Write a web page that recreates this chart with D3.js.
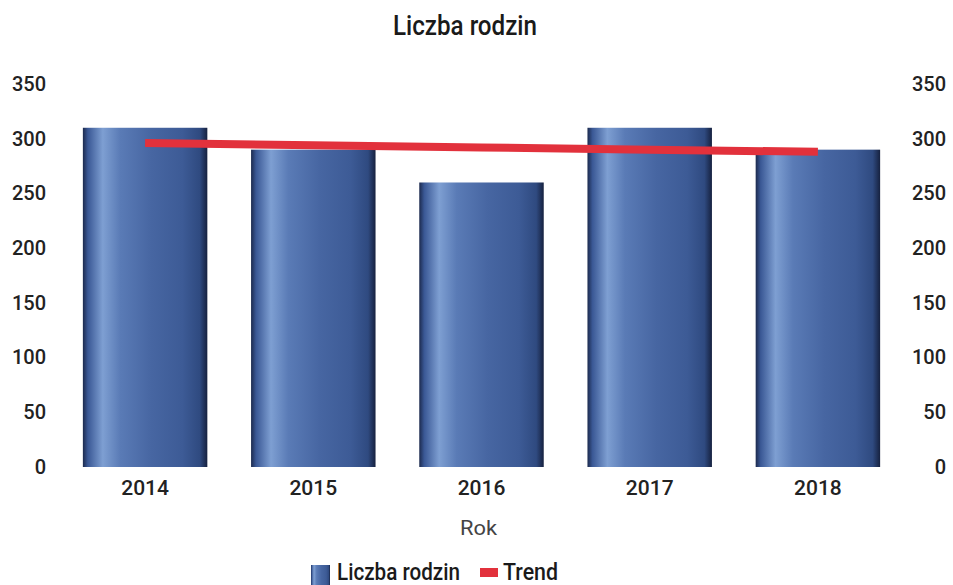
<!DOCTYPE html>
<html><head><meta charset="utf-8">
<script src="https://cdn.jsdelivr.net/npm/d3@7"></script>
<style>body{margin:0;background:#fff;}svg{display:block;}</style>
</head><body>
<svg id="c" width="953" height="585"></svg>
<script>
const years = ["2014","2015","2016","2017","2018"];
const families = [310, 290, 260, 310, 290];
const trend = [296, 294, 292, 290, 288];
const yTicks = [0,50,100,150,200,250,300,350];
const title = "Liczba rodzin";
const xTitle = "Rok";
const seriesNames = ["Liczba rodzin","Trend"];

const svg = d3.select("#c");
const x = d3.scaleBand().domain(years).range([61, 902]).paddingInner(0.26).paddingOuter(0.13);
const y = d3.scaleLinear().domain([0,350]).range([467, 84]);
const font = "Roboto, 'Open Sans', sans-serif";

const defs = svg.append("defs");
const g = defs.append("linearGradient").attr("id","barGrad").attr("x1","0").attr("x2","1").attr("y1","0").attr("y2","0");
[[0,"#1c2a4e"],[0.04,"#3a5895"],[0.16,"#7e9fd2"],[0.3,"#5a7bb6"],[0.55,"#4766a2"],[0.8,"#3d5b96"],[0.94,"#2f4a80"],[1,"#16213f"]]
  .forEach(([o,c]) => g.append("stop").attr("offset",o).attr("stop-color",c));

svg.append("text").attr("x",393).attr("y",35)
  .attr("textLength",144).attr("lengthAdjust","spacingAndGlyphs")
  .attr("font-family",font).attr("font-size",27).attr("font-weight",500).attr("fill","#1a1a1a").text(title);

// bars
svg.append("g").selectAll("rect").data(years).join("rect")
  .attr("x", d => x(d)).attr("width", x.bandwidth())
  .attr("y", (d,i) => y(families[i])).attr("height", (d,i) => y(0)-y(families[i]))
  .attr("fill","url(#barGrad)");

// trend line
const line = d3.line().x((d,i) => x(years[i]) + x.bandwidth()/2).y(d => y(d));
svg.append("path").datum(trend).attr("d", line).attr("fill","none")
  .attr("stroke","#e2313c").attr("stroke-width",8);

function styleTicks(sel, size){
  sel.select(".domain").remove();
  sel.selectAll("text").attr("font-family",font).attr("font-size",size).attr("font-weight",500).attr("fill","#222");
}
const la = svg.append("g").attr("transform","translate(46,0)")
  .call(d3.axisLeft(y).tickValues(yTicks).tickSize(0).tickPadding(0));
styleTicks(la, 20);
const ra = svg.append("g").attr("transform","translate(946,0)")
  .call(d3.axisLeft(y).tickValues(yTicks).tickSize(0).tickPadding(0));
styleTicks(ra, 20);

const xa = svg.append("g").attr("transform","translate(0,467)")
  .call(d3.axisBottom(x).tickSize(0).tickPadding(13));
styleTicks(xa, 21);

svg.append("text").attr("x",460).attr("y",535)
  .attr("textLength",37).attr("lengthAdjust","spacingAndGlyphs")
  .attr("font-family",font).attr("font-size",21).attr("fill","#444").text(xTitle);

// legend
const leg = svg.append("g");
leg.append("rect").attr("x",311).attr("y",565).attr("width",19).attr("height",20).attr("fill","url(#barGrad)");
leg.append("text").attr("x",337).attr("y",580)
  .attr("textLength",123).attr("lengthAdjust","spacingAndGlyphs")
  .attr("font-family",font).attr("font-size",23).attr("font-weight",500).attr("fill","#1a1a1a").text(seriesNames[0]);
leg.append("rect").attr("x",480).attr("y",568).attr("width",18).attr("height",9).attr("fill","#e2313c");
leg.append("text").attr("x",503).attr("y",580)
  .attr("textLength",55).attr("lengthAdjust","spacingAndGlyphs")
  .attr("font-family",font).attr("font-size",23).attr("font-weight",500).attr("fill","#1a1a1a").text(seriesNames[1]);
</script>
</body></html>
